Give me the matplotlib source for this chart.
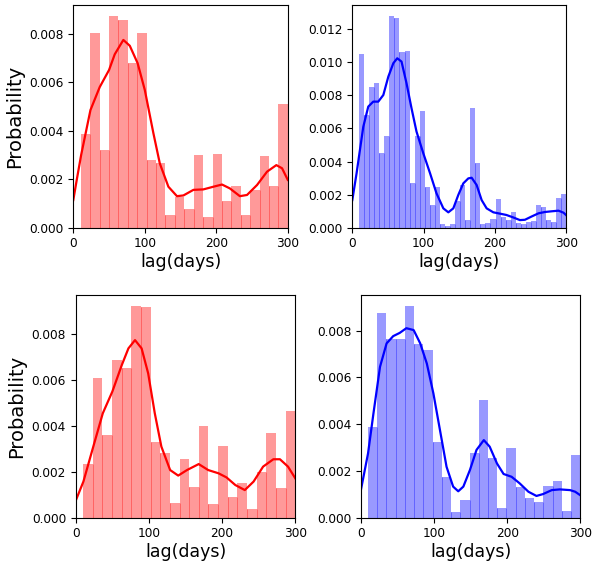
import numpy as np
import matplotlib
matplotlib.use("Agg")
import matplotlib.pyplot as plt

# ---------------- data ----------------
# Panel 1 (top-left, red)
p1_start, p1_end = 10.5, 300.0
p1_heights = [0.00386, 0.00801, 0.00320, 0.00873, 0.00856, 0.00679, 0.00801, 0.00278,
              0.00265, 0.00052, 0.00128, 0.00077, 0.00298, 0.00044, 0.00304, 0.00110,
              0.00170, 0.00052, 0.00155, 0.00296, 0.00172, 0.00509]
p1_kde_x = [0, 5, 11, 24, 37, 50, 58, 70, 79, 90, 100, 112, 121, 133, 145, 154, 168,
            182, 196, 208, 219, 233, 243, 257, 271, 284, 292, 300]
p1_kde_y = [0.00114, 0.00200, 0.00300, 0.00485, 0.00580, 0.00650, 0.00715, 0.00774,
            0.00750, 0.00678, 0.00568, 0.00390, 0.00265, 0.00169, 0.00130, 0.00133,
            0.00156, 0.00158, 0.00169, 0.00178, 0.00162, 0.00130, 0.00135, 0.00176,
            0.00231, 0.00258, 0.00245, 0.00197]

# Panel 2 (top-right, blue)
p2_start, p2_end = 9.4, 300.0
p2_heights = [0.01050, 0.00682, 0.00851, 0.00875, 0.00452, 0.00555, 0.01280, 0.01268,
              0.01063, 0.01069, 0.00270, 0.00555, 0.00706, 0.00246, 0.00137, 0.00246,
              0.00020, 0.00008, 0.00025, 0.00162, 0.00258, 0.00047, 0.00724, 0.00391,
              0.00022, 0.00028, 0.00052, 0.00174, 0.00064, 0.00047, 0.00095, 0.00028,
              0.00022, 0.00034, 0.00040, 0.00137, 0.00125, 0.00047, 0.00034, 0.00180,
              0.00204]
p2_kde_x = [0, 6, 10.7, 15.4, 22.4, 29.4, 36.4, 43.5, 50.5, 57.5, 63, 69, 76, 83, 90,
            99.5, 109, 118, 127.6, 134.6, 141.6, 148.6, 155.6, 162.6, 167.3, 174.3,
            181.3, 188.3, 197.7, 207, 216, 225.7, 235, 242, 251, 261, 270, 279, 289,
            296, 300]
p2_kde_y = [0.00167, 0.00329, 0.00470, 0.00610, 0.00732, 0.00762, 0.00762, 0.00802,
            0.00913, 0.00994, 0.01024, 0.01004, 0.00873, 0.00722, 0.00581, 0.00450,
            0.00329, 0.00208, 0.00117, 0.00093, 0.00117, 0.00198, 0.00268, 0.00298,
            0.00302, 0.00258, 0.00167, 0.00117, 0.00093, 0.00085, 0.00077, 0.00062,
            0.00046, 0.00048, 0.00067, 0.00087, 0.00095, 0.00099, 0.00103, 0.00091,
            0.00075]

# Panel 3 (bottom-left, red)
p3_start, p3_end = 10.0, 300.0
p3_heights = [0.00233, 0.00607, 0.00359, 0.00686, 0.00651, 0.00920, 0.00916, 0.00329,
              0.00281, 0.00064, 0.00255, 0.00133, 0.00399, 0.00059, 0.00312, 0.00090,
              0.00152, 0.00038, 0.00200, 0.00368, 0.00129, 0.00464]
p3_kde_x = [0, 10.5, 24, 37, 50, 63, 72, 81, 90, 99, 108, 117, 129, 140, 152, 168,
            181, 195, 206, 218, 231, 243, 256, 270, 279, 290, 300]
p3_kde_y = [0.00074, 0.00157, 0.00309, 0.00454, 0.00548, 0.00664, 0.00736, 0.00772,
            0.00736, 0.00627, 0.00454, 0.00309, 0.00207, 0.00183, 0.00207, 0.00233,
            0.00207, 0.00193, 0.00175, 0.00142, 0.00120, 0.00157, 0.00222, 0.00254,
            0.00254, 0.00222, 0.00171]

# Panel 4 (bottom-right, blue)
p4_start, p4_end = 9.6, 300.0
p4_heights = [0.00388, 0.00876, 0.00763, 0.00763, 0.00906, 0.00743, 0.00716, 0.00324,
              0.00174, 0.00024, 0.00076, 0.00277, 0.00503, 0.00255, 0.00041, 0.00298,
              0.00131, 0.00084, 0.00067, 0.00135, 0.00157, 0.00029, 0.00268]
p4_kde_x = [0, 9.6, 17, 26, 35, 44, 53, 62, 72, 81, 90, 99, 108, 117, 126, 133, 140,
            149, 158, 168, 176, 186, 195, 206, 217, 229, 240, 249, 261, 272, 286, 293,
            300]
p4_kde_y = [0.00121, 0.00275, 0.00446, 0.00646, 0.00746, 0.00777, 0.00791, 0.00811,
            0.00803, 0.00746, 0.00660, 0.00532, 0.00375, 0.00218, 0.00133, 0.00113,
            0.00133, 0.00204, 0.00290, 0.00332, 0.00304, 0.00232, 0.00187, 0.00175,
            0.00147, 0.00111, 0.00093, 0.00101, 0.00118, 0.00121, 0.00118, 0.00111,
            0.00096]

x_ticks = [0, 100, 200, 300]
x_label = "lag(days)"
y_label = "Probability"

# ---------------- plotting ----------------
fig = plt.figure(figsize=(5.93, 5.68), dpi=100)

panels = [
    dict(pos=[0.1236, 0.5991, 0.3617, 0.3921], start=p1_start, end=p1_end, h=p1_heights,
         kx=p1_kde_x, ky=p1_kde_y, color="red", ylim=0.00918, yticks=np.arange(0, 0.0081, 0.002), ylab=True),
    dict(pos=[0.5941, 0.5991, 0.3609, 0.3921], start=p2_start, end=p2_end, h=p2_heights,
         kx=p2_kde_x, ky=p2_kde_y, color="blue", ylim=0.01346, yticks=np.arange(0, 0.0121, 0.002), ylab=False),
    dict(pos=[0.1277, 0.0886, 0.3703, 0.3920], start=p3_start, end=p3_end, h=p3_heights,
         kx=p3_kde_x, ky=p3_kde_y, color="red", ylim=0.00968, yticks=np.arange(0, 0.0081, 0.002), ylab=True),
    dict(pos=[0.6088, 0.0886, 0.3698, 0.3920], start=p4_start, end=p4_end, h=p4_heights,
         kx=p4_kde_x, ky=p4_kde_y, color="blue", ylim=0.00953, yticks=np.arange(0, 0.0081, 0.002), ylab=False),
]

for p in panels:
    ax = fig.add_axes(p["pos"])
    h = np.asarray(p["h"])
    n = len(h)
    edges = np.linspace(p["start"], p["end"], n + 1)
    width = edges[1] - edges[0]
    ax.bar(edges[:-1], h, width=width, align="edge", color=p["color"], alpha=0.4,
           linewidth=0)
    # faint seams where adjacent bars meet
    inner = edges[1:-1]
    seam_top = np.minimum(h[:-1], h[1:])
    ax.vlines(inner, 0, seam_top, color=p["color"], alpha=0.35, linewidth=0.7)
    ax.plot(p["kx"], p["ky"], color=p["color"], linewidth=1.6)
    ax.set_xlim(0, 300)
    ax.set_ylim(0, p["ylim"])
    ax.set_xticks(x_ticks)
    ax.set_yticks(p["yticks"])
    ax.set_yticklabels([f"{v:.3f}" for v in p["yticks"]])
    ax.tick_params(labelsize=8.7)
    ax.set_xlabel(x_label, fontsize=12.5, labelpad=2)
    if p["ylab"]:
        ax.set_ylabel(y_label, fontsize=14)

fig.savefig("out.png", dpi=100)
